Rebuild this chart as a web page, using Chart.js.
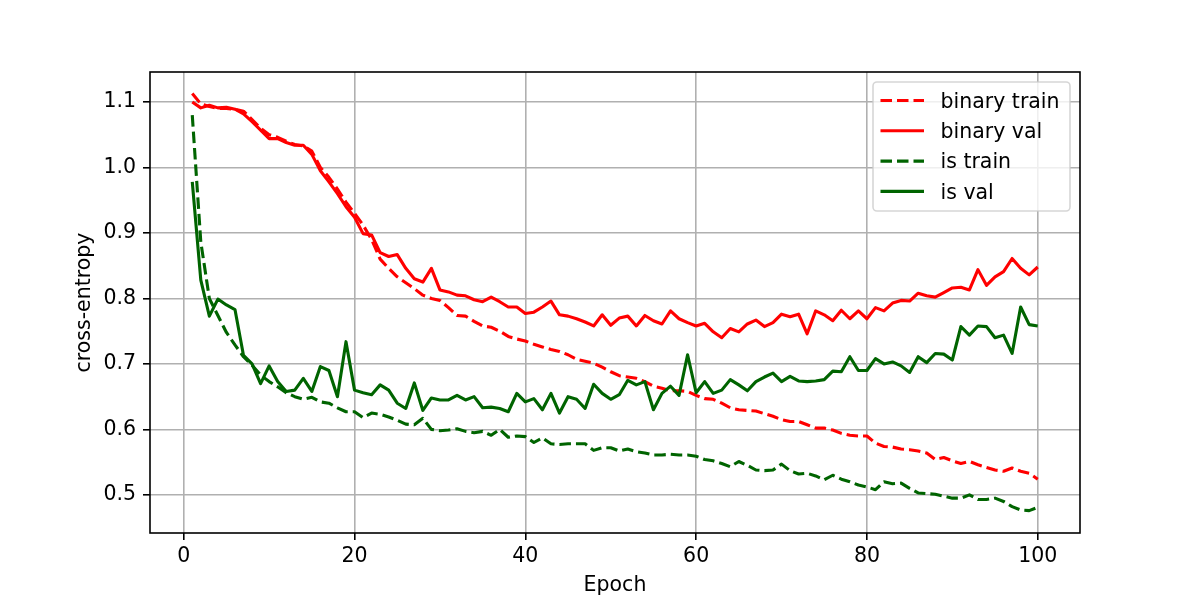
<!DOCTYPE html>
<html>
<head>
<meta charset="utf-8">
<script src="https://cdn.jsdelivr.net/npm/chart.js@4"></script>
<style>
  html, body { margin: 0; padding: 0; background: #fff; }
  #wrap { width: 1200px; height: 600px; }
</style>
</head>
<body>
<div id="wrap"><canvas id="chart" width="1200" height="600"></canvas></div>
<script>
const epochs = [];
for (let i = 1; i <= 100; i++) epochs.push(i);

const binaryTrain = [1.113, 1.097, 1.093, 1.09, 1.09, 1.089, 1.086, 1.073, 1.06, 1.05,
  1.046, 1.04, 1.035, 1.033, 1.025, 1.0, 0.985, 0.967, 0.947, 0.93,
  0.912, 0.89, 0.86, 0.846, 0.833, 0.824, 0.815, 0.805, 0.80, 0.797,
  0.786, 0.774, 0.773, 0.765, 0.758, 0.756, 0.75, 0.742, 0.738, 0.735,
  0.73, 0.726, 0.722, 0.719, 0.714, 0.707, 0.704, 0.701, 0.695, 0.688,
  0.682, 0.68, 0.678, 0.673, 0.666, 0.663, 0.659, 0.659, 0.658, 0.652,
  0.647, 0.646, 0.64, 0.633, 0.63, 0.629, 0.628, 0.624, 0.62, 0.615,
  0.612, 0.612, 0.607, 0.602, 0.602, 0.599, 0.594, 0.591, 0.59, 0.59,
  0.579, 0.574, 0.573, 0.57, 0.569, 0.567, 0.564, 0.554, 0.557, 0.552,
  0.548, 0.551, 0.546, 0.542, 0.538, 0.536, 0.541, 0.536, 0.533, 0.524];

const binaryVal = [1.10, 1.091, 1.095, 1.091, 1.092, 1.089, 1.082, 1.07, 1.057, 1.044,
  1.044, 1.038, 1.034, 1.034, 1.02, 0.995, 0.978, 0.96, 0.94, 0.924,
  0.899, 0.897, 0.87, 0.864, 0.867, 0.846, 0.83, 0.825, 0.846, 0.813,
  0.81, 0.805, 0.804, 0.798, 0.795, 0.802, 0.795, 0.787, 0.787, 0.777,
  0.779, 0.787, 0.796, 0.775, 0.773, 0.769, 0.764, 0.758, 0.775, 0.759,
  0.77, 0.773, 0.758, 0.774, 0.766, 0.761, 0.781, 0.769, 0.763, 0.758,
  0.762, 0.749, 0.74, 0.754, 0.749, 0.761, 0.767, 0.757, 0.763, 0.776,
  0.772, 0.776, 0.746, 0.781, 0.775, 0.766, 0.782, 0.769, 0.781, 0.769,
  0.786, 0.781, 0.793, 0.797, 0.796, 0.808, 0.804, 0.802, 0.809, 0.816,
  0.817, 0.813, 0.844, 0.82, 0.833, 0.841, 0.861, 0.846, 0.836, 0.848];

const isTrain = [1.08, 0.886, 0.80, 0.774, 0.748, 0.729, 0.711, 0.698, 0.683, 0.673,
  0.665, 0.656, 0.65, 0.646, 0.649, 0.642, 0.64, 0.633, 0.627, 0.627,
  0.618, 0.625, 0.623, 0.619, 0.614, 0.608, 0.607, 0.617, 0.60, 0.598,
  0.599, 0.601, 0.597, 0.595, 0.597, 0.591, 0.60, 0.588, 0.59, 0.589,
  0.58, 0.587, 0.578, 0.577, 0.578, 0.578, 0.578, 0.568, 0.572, 0.572,
  0.567, 0.57, 0.566, 0.564, 0.561, 0.561, 0.562, 0.561, 0.561, 0.559,
  0.554, 0.552, 0.548, 0.543, 0.551, 0.545, 0.538, 0.537, 0.538, 0.547,
  0.537, 0.532, 0.533, 0.529, 0.523, 0.53, 0.524, 0.52, 0.515, 0.512,
  0.508, 0.52, 0.517, 0.518, 0.51, 0.503, 0.502, 0.501, 0.498, 0.495,
  0.495, 0.50, 0.493, 0.493, 0.495, 0.49, 0.482, 0.477, 0.476, 0.481];

const isVal = [0.978, 0.828, 0.773, 0.799, 0.79, 0.783, 0.713, 0.70, 0.67, 0.697,
  0.673, 0.658, 0.66, 0.678, 0.658, 0.696, 0.69, 0.65, 0.734, 0.66,
  0.656, 0.653, 0.668, 0.66, 0.64, 0.632, 0.671, 0.629, 0.648, 0.645,
  0.645, 0.652, 0.645, 0.65, 0.633, 0.634, 0.632, 0.627, 0.655, 0.642,
  0.647, 0.63, 0.655, 0.625, 0.65, 0.646, 0.632, 0.669, 0.655, 0.646,
  0.653, 0.675, 0.668, 0.673, 0.63, 0.655, 0.666, 0.652, 0.714, 0.656,
  0.673, 0.655, 0.66, 0.676, 0.668, 0.659, 0.673, 0.68, 0.686, 0.673,
  0.681, 0.674, 0.673, 0.674, 0.676, 0.689, 0.688, 0.711, 0.69, 0.69,
  0.708, 0.70, 0.703, 0.697, 0.687, 0.711, 0.702, 0.716, 0.715, 0.706,
  0.757, 0.744, 0.758, 0.757, 0.74, 0.744, 0.716, 0.787, 0.76, 0.758];

const xTicks = [0, 20, 40, 60, 80, 100];
const yTicks = [0.5, 0.6, 0.7, 0.8, 0.9, 1.0, 1.1];

const pts = vals => vals.map((v, i) => ({ x: epochs[i], y: v }));
const LW = 3.1;
const DASH = [11.5, 5];
const FONT = { size: 20.5, family: 'DejaVu Sans' };

// matplotlib-style frame and legend box
const mplDecor = {
  id: 'mplDecor',
  afterDraw(chart) {
    const { ctx, chartArea } = chart;
    ctx.save();
    ctx.strokeStyle = '#000';
    ctx.lineWidth = 1.6;
    ctx.strokeRect(chartArea.left, chartArea.top,
      chartArea.right - chartArea.left, chartArea.bottom - chartArea.top);

    const w = 197, h = 129;
    const lx = chartArea.right - 10 - w, ly = chartArea.top + 10;
    ctx.beginPath();
    ctx.roundRect(lx, ly, w, h, 4);
    ctx.fillStyle = 'rgba(255,255,255,0.8)';
    ctx.fill();
    ctx.strokeStyle = 'rgba(204,204,204,0.8)';
    ctx.lineWidth = 1.6;
    ctx.stroke();

    ctx.font = FONT.size + 'px "DejaVu Sans"';
    ctx.textBaseline = 'middle';
    chart.data.datasets.forEach((ds, i) => {
      const ry = ly + 18.5 + i * 30.3;
      ctx.beginPath();
      ctx.strokeStyle = ds.borderColor;
      ctx.lineWidth = LW;
      ctx.setLineDash(ds.borderDash || []);
      ctx.moveTo(lx + 7.5, ry);
      ctx.lineTo(lx + 51, ry);
      ctx.stroke();
      ctx.setLineDash([]);
      ctx.fillStyle = '#000';
      ctx.fillText(ds.label, lx + 67.5, ry + 2);
    });
    ctx.restore();
  }
};

new Chart(document.getElementById('chart'), {
  type: 'line',
  data: {
    datasets: [
      { label: 'binary train', data: pts(binaryTrain), borderColor: '#ff0000', borderDash: DASH, order: 4 },
      { label: 'binary val', data: pts(binaryVal), borderColor: '#ff0000', order: 3 },
      { label: 'is train', data: pts(isTrain), borderColor: '#006400', borderDash: DASH, order: 2 },
      { label: 'is val', data: pts(isVal), borderColor: '#006400', order: 1 },
    ],
  },
  options: {
    responsive: false,
    animation: false,
    events: [],
    datasets: { line: { borderWidth: LW, pointRadius: 0, tension: 0, fill: false, borderJoinStyle: 'round' } },
    layout: { padding: { left: 68, top: 72, right: 120, bottom: 0 } },
    plugins: { legend: { display: false }, tooltip: { enabled: false } },
    scales: {
      x: {
        type: 'linear',
        min: -3.95,
        max: 104.95,
        afterBuildTicks: s => { s.ticks = xTicks.map(v => ({ value: v })); },
        afterFit: s => { s.height = 67; },
        grid: { color: '#b0b0b0', lineWidth: 1.6, tickColor: '#000', tickLength: 7, tickWidth: 1.6 },
        border: { display: false },
        ticks: { color: '#000', padding: 4, maxRotation: 0, font: FONT },
        title: { display: true, text: 'Epoch', color: '#000', padding: { top: 0, bottom: 2.5 }, font: FONT },
      },
      y: {
        type: 'linear',
        min: 0.4418,
        max: 1.1458,
        afterBuildTicks: s => { s.ticks = yTicks.map(v => ({ value: v })); },
        afterFit: s => { s.width = 82; },
        grid: { color: '#b0b0b0', lineWidth: 1.6, tickColor: '#000', tickLength: 7, tickWidth: 1.6 },
        border: { display: false },
        ticks: { color: '#000', padding: 7, callback: v => v.toFixed(1), font: FONT },
        title: { display: true, text: 'cross-entropy', color: '#000', padding: { top: 4.5, bottom: 0 }, font: FONT },
      },
    },
  },
  plugins: [mplDecor],
});
</script>
</body>
</html>
